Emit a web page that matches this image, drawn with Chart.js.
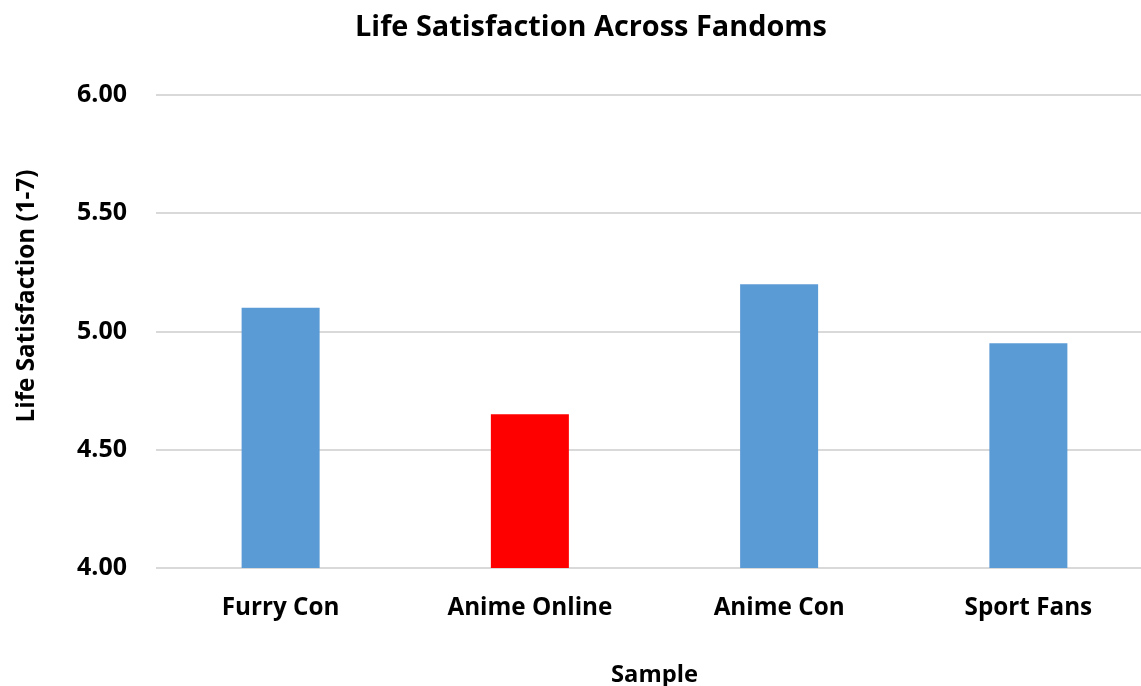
<!DOCTYPE html>
<html>
<head>
<meta charset="utf-8">
<script src="https://cdn.jsdelivr.net/npm/chart.js@4/dist/chart.umd.min.js"></script>
<style>
  html, body { margin: 0; padding: 0; background: #ffffff; overflow: hidden; }
  #wrap { width: 1180px; height: 700px; position: relative; }
</style>
</head>
<body>
<div id="wrap"><canvas id="c" width="1180" height="700" style="width:1180px;height:700px"></canvas></div>
<script>
const chartTitle = 'Life Satisfaction Across Fandoms';
const categories = ['Furry Con', 'Anime Online', 'Anime Con', 'Sport Fans'];
const lifeSatisfaction = [5.10, 4.65, 5.20, 4.95];
const barColors = ['#5B9BD5', '#FF0000', '#5B9BD5', '#5B9BD5'];
const yTickValues = [4.00, 4.50, 5.00, 5.50, 6.00];
const xAxisTitle = 'Sample';
const yAxisTitle = 'Life Satisfaction (1-7)';

const FONT = '"Open Sans", Lato, sans-serif';

// pick font sizes so rendered text widths match the reference picture
const mctx = document.createElement('canvas').getContext('2d');
function fitSize(text, targetWidth) {
  mctx.font = 'bold 100px ' + FONT;
  return 100 * targetWidth / mctx.measureText(text).width;
}
const titleSize = fitSize(chartTitle, 472);
const xTickSize = fitSize('Anime Online', 165);
const yTickSize = fitSize('6.00', 50);
const xTitleSize = fitSize(xAxisTitle, 87);
const yTitleSize = fitSize(yAxisTitle, 253);

const titleLH = titleSize * 1.2;
const titleTop = 28 - titleLH / 2;
const titleBottom = 95 - titleTop - titleLH;

// centre the chart title on x = 591 as in the reference
const titleCenterPlugin = {
  id: 'titleCenter',
  afterLayout(chart) {
    const t = chart.titleBlock;
    if (t) { t.left = 0; t.right = 1182; t.width = 1182; }
  }
};

const yTitlePlugin = {
  id: 'yTitle',
  afterDraw(chart) {
    const ctx = chart.ctx;
    ctx.save();
    ctx.translate(27, 296);
    ctx.rotate(-Math.PI / 2);
    ctx.font = 'bold ' + yTitleSize + 'px ' + FONT;
    ctx.fillStyle = '#000000';
    ctx.textAlign = 'center';
    ctx.textBaseline = 'middle';
    ctx.fillText(yAxisTitle, 0, 0);
    ctx.restore();
  }
};

new Chart(document.getElementById('c'), {
  type: 'bar',
  data: {
    labels: categories,
    datasets: [{
      data: lifeSatisfaction,
      backgroundColor: barColors,
      borderWidth: 0,
      categoryPercentage: 1.0,
      barPercentage: 0.313
    }]
  },
  options: {
    responsive: false,
    animation: false,
    devicePixelRatio: 1,
    layout: { padding: { left: 0, right: 27, top: 0, bottom: 0 } },
    plugins: {
      legend: { display: false },
      tooltip: { enabled: false },
      title: {
        display: true,
        text: chartTitle,
        color: '#000000',
        font: { family: FONT, size: titleSize, weight: 'bold', lineHeight: 1.2 },
        padding: { top: titleTop, bottom: titleBottom }
      }
    },
    scales: {
      x: {
        grid: { display: false, drawTicks: false },
        border: { display: false },
        ticks: {
          color: '#000000',
          font: { family: FONT, size: xTickSize, weight: 'bold', lineHeight: 1.2 },
          padding: 608 - 568 - xTickSize * 0.6,
          maxRotation: 0
        },
        title: {
          display: true,
          text: xAxisTitle,
          color: '#000000',
          font: { family: FONT, size: xTitleSize, weight: 'bold', lineHeight: 1.2 },
          padding: { top: 0, bottom: 25 - xTitleSize * 0.6 }
        },
        afterFit(scale) { scale.height = 132; }
      },
      y: {
        min: 4,
        max: 6,
        afterBuildTicks(scale) { scale.ticks = yTickValues.map(v => ({ value: v })); },
        grid: { color: '#D9D9D9', lineWidth: 2, drawTicks: false },
        border: { display: false },
        ticks: {
          color: '#000000',
          font: { family: FONT, size: yTickSize, weight: 'bold', lineHeight: 1.2 },
          padding: 29,
          callback: (v) => Number(v).toFixed(2)
        },
        afterFit(scale) { scale.width = 156; }
      }
    }
  },
  plugins: [titleCenterPlugin, yTitlePlugin]
});
</script>
</body>
</html>
